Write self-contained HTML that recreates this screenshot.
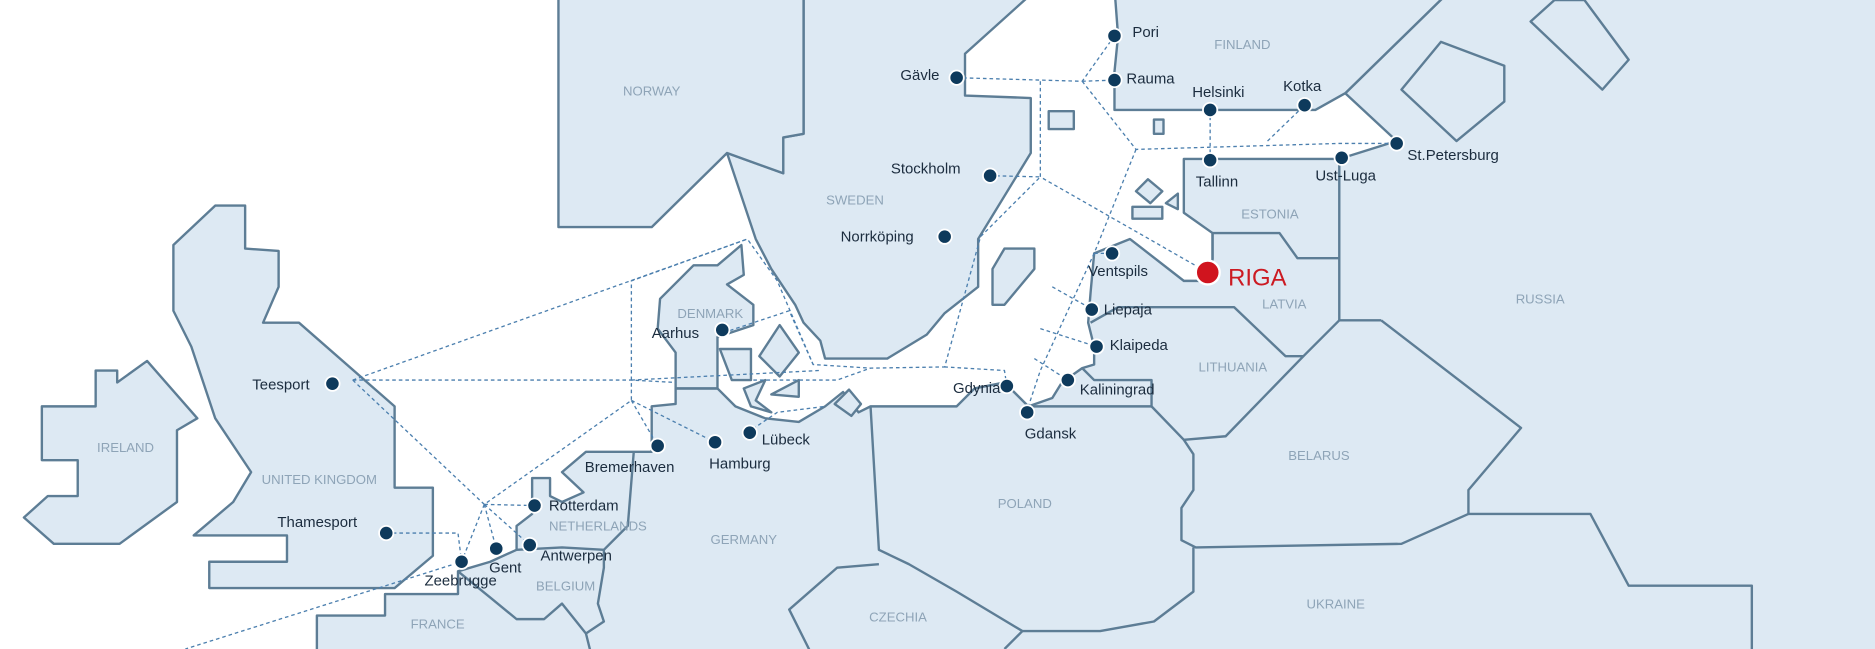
<!DOCTYPE html>
<html><head><meta charset="utf-8"><style>
html,body{margin:0;padding:0;background:#fff;}
svg{display:block;}
.l{fill:#dde9f3;stroke:#5d7d95;stroke-width:2;stroke-linejoin:round;}
.b{fill:none;stroke:#5d7d95;stroke-width:2;stroke-linejoin:round;}
.d{fill:none;stroke:#4b7fae;stroke-width:1.1;stroke-dasharray:3,2.5;}
.p{fill:#0e3a5c;stroke:#fff;stroke-width:1.5;}
.t{font-family:"Liberation Sans",sans-serif;font-size:12.5px;fill:#1b2c3e;}
.c{font-family:"Liberation Sans",sans-serif;font-size:11px;fill:#8ea4b7;text-anchor:middle;}
</style></head><body>
<svg width="1875" height="649" viewBox="0 0 1568 543" preserveAspectRatio="none" xmlns="http://www.w3.org/2000/svg">
<!-- continent -->
<path class="l" d="M265,560 L265,515 L322,515 L322,497 L383,497 L383,478 L410,470 L432,460 L432,440 L445,430 L445,400 L460,400 L460,415 L470,420 L488,412 L470,395 L490,378 L530,378 L545,378 L545,340 L565,338 L565,325 L600,325 L615,340 L640,350 L668,353 L690,340 L705,328 L718,345 L728,340 L800,340 L815,325 L840,320 L860,340 L880,333 L888,320 L905,308 L915,305 L915,290 L910,270 L912,245 L915,212 L945,200 L990,235 L1010,235 L1014,217 L1014,195 L990,178 L990,133 L1120,133 L1168,118 L1125,78 L1215,-10 L1590,-10 L1590,560 Z"/>
<!-- Finland -->
<path class="l" d="M932,-10 L1215,-10 L1125,78 L1100,92 L1010,92 L932,92 L932,60 L935,30 Z"/>
<!-- Sweden -->
<path class="l" d="M672,-10 L868,-10 L807,45 L807,80 L862,82 L862,128 L818,200 L818,240 L790,262 L775,280 L742,300 L690,300 L686,285 L672,270 L665,255 L645,225 L632,200 L608,128 L655,145 L655,115 L672,112 Z"/>
<!-- Norway -->
<path class="l" d="M467,-10 L672,-10 L672,112 L655,115 L655,145 L608,128 L545,190 L467,190 Z"/>
<!-- Denmark -->
<path class="l" d="M552,250 L580,222 L600,222 L620,205 L622,230 L608,238 L630,255 L630,272 L600,282 L600,325 L565,325 L565,295 L550,275 Z"/>
<path class="l" d="M602,292 L628,292 L628,318 L612,318 Z"/>
<path class="l" d="M652,272 L668,295 L652,315 L635,298 Z"/>
<path class="l" d="M622,325 L640,318 L632,335 L645,345 L628,340 Z"/>
<path class="l" d="M645,330 L668,318 L668,332 Z"/>
<path class="l" d="M698,338 L710,326 L720,338 L712,348 Z"/>
<!-- UK -->
<path class="l" d="M145,205 L180,172 L205,172 L205,208 L233,210 L233,240 L220,270 L250,270 L330,340 L330,408 L362,408 L362,465 L330,492 L175,492 L175,470 L240,470 L240,448 L162,448 L195,420 L210,395 L180,350 L160,290 L145,260 Z"/>
<!-- Ireland -->
<path class="l" d="M35,340 L80,340 L80,310 L98,310 L98,320 L123,302 L165,350 L148,360 L148,420 L100,455 L45,455 L20,433 L40,415 L65,415 L65,385 L35,385 Z"/>
<!-- Islands -->
<path class="l" d="M840,208 L865,208 L865,225 L840,255 L830,255 L830,225 Z"/>
<path class="l" d="M877,93 L898,93 L898,108 L877,108 Z"/>
<path class="l" d="M965,100 L973,100 L973,112 L965,112 Z"/>
<path class="l" d="M960,150 L972,160 L962,170 L950,160 Z"/>
<path class="l" d="M947,173 L972,173 L972,183 L947,183 Z"/>
<path class="l" d="M975,170 L985,162 L985,175 Z"/>
<path class="l" d="M1280,18 L1300,0 L1325,0 L1362,50 L1340,75 Z"/>
<path class="l" d="M1172,75 L1205,35 L1258,55 L1258,85 L1218,118 Z"/>
<!-- Borders -->
<path class="b" d="M1014,217 L1014,195 L1070,195 L1085,216 L1120,216"/>
<path class="b" d="M1120,133 L1120,268 L1155,268"/>
<path class="b" d="M912,270 L935,257 L1032,257 L1075,298 L1090,298 L1120,268"/>
<path class="b" d="M1090,298 L1025,365 L990,368"/>
<path class="b" d="M905,308 L915,318 L963,318 L963,340 L990,368 L998,380 L998,410 L988,425 L988,452 L1000,458 L1172,455 L1228,430"/>
<path class="b" d="M1155,268 L1272,358 L1228,410 L1228,430 L1330,430 L1362,490 L1465,490 L1465,550"/>
<path class="b" d="M860,340 L963,340"/>
<path class="b" d="M728,340 L735,460 L760,472 L800,495 L855,528 L920,528 L965,520 L998,495 L998,458"/>
<path class="b" d="M855,528 L840,543"/>
<path class="b" d="M735,472 L700,475 L660,510 L680,550"/>
<path class="b" d="M530,378 L525,440 L505,460 L505,475 L500,505 L505,520 L490,530"/>
<path class="b" d="M432,460 L470,458 L505,460"/>
<path class="b" d="M383,478 L410,500 L432,518 L455,518 L470,505 L490,530 L495,550"/>
<path class="b" d="M565,325 L600,325"/>
<!-- Routes -->
<path class="d" d="M295,318 L625,200 L650,235 L680,305 L728,308 L790,307 L820,198 L870,148 L828,147"/>
<path class="d" d="M295,318 L405,422 L528,335 L528,235 L625,200"/>
<path class="d" d="M295,318 L528,318 L565,320"/>
<path class="d" d="M528,335 L550,373 M528,335 L598,370 M528,318 L685,310"/>
<path class="d" d="M405,422 L447,423 M405,422 L443,456 M405,422 L415,459 M405,422 L386,470 L155,543"/>
<path class="d" d="M323,446 L383,446 L386,470"/>
<path class="d" d="M800,65 L905,68 L932,30 M905,68 L932,67 M905,68 L950,125 L1120,120 L1168,120"/>
<path class="d" d="M870,68 L870,148 L1010,228 M950,125 L915,212 L870,310 L860,340"/>
<path class="d" d="M1012,92 L1012,133 M1060,118 L1091,88 M915,212 L930,212"/>
<path class="d" d="M880,240 L912,258 M870,275 L917,290 M865,300 L893,318 M842,323 L840,310 L790,307"/>
<path class="d" d="M600,280 L660,260 L680,305 M630,318 L700,318 L728,308"/>
<path class="d" d="M625,362 L650,345 L690,340"/>
<!-- Ports -->
<g class="p">
<circle cx="278" cy="321" r="6"/><circle cx="323" cy="446" r="6"/><circle cx="386" cy="470" r="6"/>
<circle cx="415" cy="459" r="6"/><circle cx="443" cy="456" r="6"/><circle cx="447" cy="423" r="6"/>
<circle cx="550" cy="373" r="6"/><circle cx="598" cy="370" r="6"/><circle cx="627" cy="362" r="6"/>
<circle cx="604" cy="276" r="6"/><circle cx="790" cy="198" r="6"/><circle cx="828" cy="147" r="6"/>
<circle cx="800" cy="65" r="6"/><circle cx="932" cy="30" r="6"/><circle cx="932" cy="67" r="6"/>
<circle cx="1012" cy="92" r="6"/><circle cx="1091" cy="88" r="6"/><circle cx="1168" cy="120" r="6"/>
<circle cx="1012" cy="134" r="6"/><circle cx="1122" cy="132" r="6"/><circle cx="930" cy="212" r="6"/>
<circle cx="913" cy="259" r="6"/><circle cx="917" cy="290" r="6"/><circle cx="893" cy="318" r="6"/>
<circle cx="842" cy="323" r="6"/><circle cx="859" cy="345" r="6"/>
</g>
<circle cx="1010" cy="228" r="10" fill="#d0141e" stroke="#fff" stroke-width="2"/>
<!-- Port labels -->
<g class="t">
<text x="211" y="326">Teesport</text><text x="232" y="441">Thamesport</text><text x="355" y="490">Zeebrugge</text>
<text x="409" y="479">Gent</text><text x="452" y="469">Antwerpen</text><text x="459" y="427">Rotterdam</text>
<text x="489" y="395">Bremerhaven</text><text x="593" y="392">Hamburg</text><text x="637" y="372">Lübeck</text>
<text x="545" y="283">Aarhus</text><text x="703" y="202">Norrköping</text><text x="745" y="145">Stockholm</text>
<text x="753" y="67">Gävle</text><text x="947" y="31">Pori</text><text x="942" y="70">Rauma</text>
<text x="997" y="81">Helsinki</text><text x="1073" y="76">Kotka</text><text x="1177" y="134">St.Petersburg</text>
<text x="1000" y="156">Tallinn</text><text x="1100" y="151">Ust-Luga</text><text x="910" y="231">Ventspils</text>
<text x="923" y="263">Liepaja</text><text x="928" y="293">Klaipeda</text><text x="903" y="330">Kaliningrad</text>
<text x="797" y="329">Gdynia</text><text x="857" y="367">Gdansk</text>
</g>
<text x="1027" y="239" font-family="Liberation Sans,sans-serif" font-size="20" fill="#cc1a22">RIGA</text>
<!-- Country labels -->
<g class="c">
<text x="545" y="80">NORWAY</text><text x="715" y="171">SWEDEN</text><text x="1039" y="41">FINLAND</text>
<text x="1062" y="183">ESTONIA</text><text x="1074" y="258">LATVIA</text><text x="1031" y="311">LITHUANIA</text>
<text x="1288" y="254">RUSSIA</text><text x="1103" y="385">BELARUS</text><text x="857" y="425">POLAND</text>
<text x="1117" y="509">UKRAINE</text><text x="751" y="520">CZECHIA</text><text x="622" y="455">GERMANY</text>
<text x="500" y="444">NETHERLANDS</text><text x="473" y="494">BELGIUM</text><text x="366" y="526">FRANCE</text>
<text x="267" y="405">UNITED KINGDOM</text><text x="105" y="378">IRELAND</text><text x="594" y="266">DENMARK</text>
</g>
</svg>
</body></html>
